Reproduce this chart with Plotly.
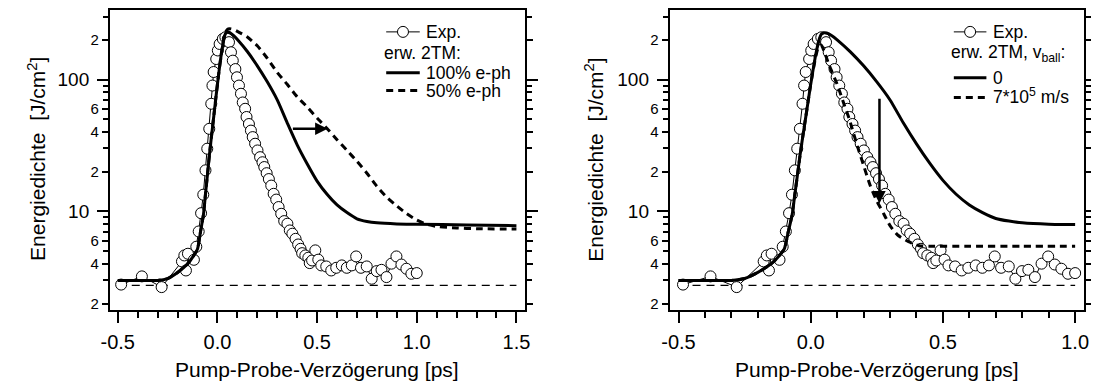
import numpy as np
import plotly.graph_objects as go

# ---------------- data ----------------
exp_delay = [-0.483, -0.379, -0.280, -0.178, -0.166, -0.158, -0.148, -0.118, -0.106, -0.094,
             -0.082, -0.071, -0.060, -0.051, -0.041, -0.031, -0.025, -0.019, -0.006, 0.002,
             0.011, 0.027, 0.040, 0.052, 0.058, 0.068, 0.077, 0.090, 0.098, 0.108,
             0.118, 0.127, 0.139, 0.146, 0.158, 0.168, 0.177, 0.189, 0.201, 0.214,
             0.226, 0.235, 0.247, 0.258, 0.270, 0.282, 0.295, 0.307, 0.320, 0.335,
             0.351, 0.363, 0.376, 0.392, 0.405, 0.417, 0.425, 0.441, 0.456, 0.463,
             0.475, 0.491, 0.506, 0.521, 0.546, 0.571, 0.596, 0.624, 0.649, 0.674,
             0.696, 0.720, 0.749, 0.774, 0.799, 0.823, 0.848, 0.873, 0.898, 0.923,
             0.948, 0.973, 1.000]
exp_energy = [2.79, 3.22, 2.67, 4.18, 4.64, 3.57, 4.78, 4.30, 5.40, 7.05,
              9.7, 13.4, 20.5, 29.9, 42.3, 65.5, 90, 114, 143, 166,
              186, 203, 209, 203, 192, 161, 139, 120, 104, 90,
              78, 67, 60, 52, 46, 41, 36.6, 32.6, 29, 25.8,
              23.6, 21.7, 19.5, 17.6, 15.7, 13.6, 12.3, 10.8, 9.6, 8.45,
              8.07, 7.18, 6.78, 6.2, 5.62, 5.21, 4.83, 4.64, 4.46, 4.06,
              4.25, 5.07, 4.31, 3.9, 3.83, 3.57, 3.74, 3.9, 3.74, 3.9,
              4.56, 3.74, 3.83, 3.09, 3.53, 3.61, 3.18, 4.02, 4.56, 3.96,
              3.68, 3.37, 3.41]

# left panel: erw. 2TM, 100 % e-ph
eph100_delay = [-0.5, -0.4, -0.3, -0.25, -0.2, -0.15, -0.12, -0.1, -0.085, -0.07,
                -0.06, -0.05, -0.04, -0.03, -0.02, -0.01, 0.0, 0.01, 0.02, 0.03,
                0.04, 0.05, 0.06, 0.08, 0.1, 0.15, 0.2, 0.25, 0.3, 0.35,
                0.4, 0.45, 0.5, 0.55, 0.6, 0.65, 0.7, 0.75, 0.8, 0.9,
                1.0, 1.25, 1.5]
eph100_energy = [3.0, 3.0, 3.0, 3.1, 3.45, 4.0, 4.6, 5.2, 7.0, 9.5,
                 13.5, 19, 27, 37, 50, 68, 92, 122, 158, 195,
                 222, 230, 228, 216, 201, 163, 127, 96, 70, 47,
                 32, 23, 17, 13.5, 11.2, 9.8, 8.8, 8.4, 8.2, 8.05,
                 8.0, 7.9, 7.8]

# left panel: erw. 2TM, 50 % e-ph
eph50_delay = [-0.5, -0.4, -0.3, -0.25, -0.2, -0.15, -0.12, -0.1, -0.085, -0.07,
               -0.06, -0.05, -0.04, -0.03, -0.02, -0.01, 0.0, 0.01, 0.02, 0.03,
               0.04, 0.05, 0.06, 0.08, 0.1, 0.15, 0.2, 0.25, 0.3, 0.35,
               0.4, 0.45, 0.5, 0.55, 0.6, 0.65, 0.7, 0.75, 0.8, 0.85,
               0.9, 0.95, 1.0, 1.05, 1.1, 1.2, 1.3, 1.5]
eph50_energy = [3.0, 3.0, 3.0, 3.1, 3.45, 4.0, 4.6, 5.2, 7.0, 9.5,
                13.5, 19, 27, 37, 50, 68, 92, 122, 158, 195,
                228, 240, 243, 240, 232, 210, 180, 145, 113, 92,
                74, 62, 51, 42.5, 35, 29, 24, 19.5, 15.5, 12.8,
                11.0, 9.6, 8.6, 8.0, 7.7, 7.5, 7.4, 7.35]

# right panel: erw. 2TM, v_ball = 0
vb0_delay = [-0.5, -0.4, -0.3, -0.25, -0.2, -0.15, -0.12, -0.1, -0.085, -0.07,
             -0.06, -0.05, -0.04, -0.03, -0.02, -0.01, 0.0, 0.01, 0.02, 0.03,
             0.04, 0.05, 0.06, 0.08, 0.1, 0.15, 0.2, 0.25, 0.3, 0.35,
             0.4, 0.45, 0.5, 0.55, 0.6, 0.65, 0.7, 0.75, 0.8, 0.9, 1.0]
vb0_energy = [3.0, 3.0, 3.0, 3.1, 3.45, 4.0, 4.6, 5.2, 7.0, 9.5,
              13.5, 19, 27, 37, 50, 68, 92, 122, 158, 195,
              220, 226, 225, 215, 200, 162, 127, 96, 70, 47,
              32.5, 23.2, 17.2, 13.5, 11.2, 9.8, 8.85, 8.45, 8.2, 8.0, 7.95]

# right panel: erw. 2TM, v_ball = 7*10^5 m/s
vb7_delay = [-0.5, -0.4, -0.3, -0.25, -0.2, -0.15, -0.12, -0.1, -0.085, -0.07,
             -0.06, -0.05, -0.04, -0.03, -0.02, -0.01, 0.0, 0.01, 0.02, 0.03,
             0.04, 0.05, 0.07, 0.1, 0.127, 0.146, 0.177, 0.195, 0.226, 0.25,
             0.276, 0.3, 0.33, 0.37, 0.41, 0.45, 0.6, 0.8, 1.0]
vb7_energy = [3.0, 3.0, 3.0, 3.1, 3.45, 4.0, 4.6, 5.2, 7.0, 9.5,
              13.5, 19, 27, 37, 50, 68, 92, 120, 152, 178,
              182, 165, 128, 92, 64, 50, 31, 24, 15.5, 12.0,
              9.6, 7.8, 6.6, 5.9, 5.5, 5.45, 5.45, 5.45, 5.45]

# dashed reference (background) level
base_left_delay = [-0.5, 1.5]
base_right_delay = [-0.5, 1.0]
base_level = [2.75, 2.75]

# arrows: (tail delay, tail energy) -> (tip delay, tip energy)
arrow_left = dict(x0=0.371, y0=42.4, x1=0.553, y1=42.4)
arrow_right = dict(x0=0.26, y0=73.5, x1=0.26, y1=11.5)

# axis ticks
x_left_ticks = [-0.5, 0.0, 0.5, 1.0, 1.5]
x_left_text = ["-0.5", "0.0", "0.5", "1.0", "1.5"]
x_right_ticks = [-0.5, 0.0, 0.5, 1.0]
x_right_text = ["-0.5", "0.0", "0.5", "1.0"]
y_decade_ticks = [10, 100]
y_small_ticks = [2, 4, 6, 20, 40, 60, 200]
y_small_text = ["2", "4", "6", "2", "4", "6", "2"]
y_minor_ticks = [3, 5, 7, 8, 9, 30, 50, 70, 80, 90, 300]

# ---------------- layout helpers ----------------
# page has an 8px body margin, so the figure itself is 8px smaller
OFF = 8
W, H = 1099 - OFF, 385 - OFF
FONT = "Liberation Sans, Arial, Helvetica, sans-serif"


def px(x):
    return (x - OFF) / W


def py(y):
    return 1 - (y - OFF) / H


YDOM = [py(311), min(1.0, py(8.6))]
YRANGE = [0.25, 2.53]

fig = go.Figure()

exp_style = dict(mode="lines+markers",
                 line=dict(color="black", width=1),
                 marker=dict(symbol="circle", size=11, color="white",
                             line=dict(color="black", width=1)),
                 showlegend=False, hoverinfo="skip")
solid = dict(color="black", width=3)
dashed = dict(color="black", width=3, dash="7px,5px")
thin_dash = dict(color="black", width=1.3, dash="8px,6px")

# left panel
fig.add_trace(go.Scatter(x=base_left_delay, y=base_level, mode="lines", line=thin_dash,
                         showlegend=False, xaxis="x", yaxis="y"))
fig.add_trace(go.Scatter(x=exp_delay, y=exp_energy, xaxis="x", yaxis="y", **exp_style))
fig.add_trace(go.Scatter(x=eph50_delay, y=eph50_energy, mode="lines", line=dict(dashed, shape="spline", smoothing=0.6),
                         showlegend=False, xaxis="x", yaxis="y"))
fig.add_trace(go.Scatter(x=eph100_delay, y=eph100_energy, mode="lines", line=dict(solid, shape="spline", smoothing=0.6),
                         showlegend=False, xaxis="x", yaxis="y"))

# right panel
fig.add_trace(go.Scatter(x=base_right_delay, y=base_level, mode="lines", line=thin_dash,
                         showlegend=False, xaxis="x2", yaxis="y2"))
fig.add_trace(go.Scatter(x=exp_delay, y=exp_energy, xaxis="x2", yaxis="y2", **exp_style))
fig.add_trace(go.Scatter(x=vb7_delay, y=vb7_energy, mode="lines", line=dict(dashed, shape="spline", smoothing=0.6),
                         showlegend=False, xaxis="x2", yaxis="y2"))
fig.add_trace(go.Scatter(x=vb0_delay, y=vb0_energy, mode="lines", line=dict(solid, shape="spline", smoothing=0.6),
                         showlegend=False, xaxis="x2", yaxis="y2"))


def xaxis(domain, rng, ticks, text, anchor):
    return dict(domain=domain, range=rng, anchor=anchor,
                tickmode="array", tickvals=ticks, ticktext=text,
                ticks="outside", ticklen=11, tickwidth=1.5, tickcolor="black",
                minor=dict(dtick=0.1, tick0=0, ticks="outside", ticklen=6, tickwidth=1.5, tickcolor="black"),
                showline=True, linecolor="black", linewidth=1.5, mirror=True,
                showgrid=False, zeroline=False,
                tickfont=dict(family=FONT, size=20, color="black"),
                ticklabelstandoff=2)


def yaxis_main(anchor):
    return dict(domain=YDOM, type="log", range=YRANGE, anchor=anchor,
                tickmode="array", tickvals=y_decade_ticks, ticktext=["10", "100"],
                ticks="outside", ticklen=11, tickwidth=1.5, tickcolor="black",
                showline=True, linecolor="black", linewidth=1.5, mirror="ticks",
                showgrid=False, zeroline=False,
                tickfont=dict(family=FONT, size=19, color="black"),
                ticklabelstandoff=4)


def yaxis_small(overlay, anchor):
    return dict(overlaying=overlay, type="log", range=YRANGE, anchor=anchor, side="left",
                tickmode="array", tickvals=y_small_ticks, ticktext=y_small_text,
                ticks="outside", ticklen=7, tickwidth=1.5, tickcolor="black",
                minor=dict(tickmode="array", tickvals=y_minor_ticks, ticks="outside",
                           ticklen=6, tickwidth=1.5, tickcolor="black"),
                showline=False, mirror="ticks",
                showgrid=False, zeroline=False,
                tickfont=dict(family=FONT, size=15, color="black"),
                ticklabelstandoff=0)


fig.update_layout(
    width=W, height=H,
    margin=dict(l=0, r=0, t=0, b=0),
    paper_bgcolor="white", plot_bgcolor="white",
    font=dict(family=FONT, color="black"),
    showlegend=False,
    xaxis=xaxis([px(102), px(523)], [-0.54, 1.545], x_left_ticks, x_left_text, "y"),
    xaxis2=xaxis([px(669), px(1089)], [-0.534, 1.034], x_right_ticks, x_right_text, "y2"),
    yaxis=yaxis_main("x"),
    yaxis2=yaxis_main("x2"),
    yaxis3=yaxis_small("y", "x"),
    yaxis4=yaxis_small("y2", "x2"),
)

# invisible traces to keep overlay axes alive
fig.add_trace(go.Scatter(x=[None], y=[None], xaxis="x", yaxis="y3", showlegend=False))
fig.add_trace(go.Scatter(x=[None], y=[None], xaxis="x2", yaxis="y4", showlegend=False))

ann = []
shapes = []

# axis titles
for xc in [28, 593]:
    ann.append(dict(text="Energiedichte&nbsp; [J/cm<sup>2</sup>]", x=px(xc), y=py(159), xref="paper", yref="paper",
                    textangle=-90, showarrow=False, xanchor="center", yanchor="middle",
                    font=dict(family=FONT, size=21, color="black")))
for xc in [312, 879]:
    ann.append(dict(text="Pump-Probe-Verzögerung [ps]", x=px(xc), y=py(370), xref="paper", yref="paper",
                    showarrow=False, xanchor="center", yanchor="middle",
                    font=dict(family=FONT, size=21, color="black")))

# legends
LF = dict(family=FONT, size=17.5, color="black")


def legend(x_line0, x_line1, x_text, x_head, rows):
    for kind, yv, ytxt, txt in rows:
        if kind == "header":
            ann.append(dict(text=txt, x=px(x_head), y=py(ytxt), xref="paper", yref="paper", showarrow=False,
                            xanchor="left", yanchor="middle", font=LF, borderpad=0))
            continue
        ann.append(dict(text=txt, x=px(x_text), y=py(ytxt), xref="paper", yref="paper", showarrow=False,
                        xanchor="left", yanchor="middle", font=LF, borderpad=0))
        if kind == "exp":
            shapes.append(dict(type="line", xref="paper", yref="paper", x0=px(x_line0), x1=px(x_line1),
                               y0=py(yv), y1=py(yv), line=dict(color="black", width=1)))
            xc = (x_line0 + x_line1) / 2
            shapes.append(dict(type="circle", xref="paper", yref="paper", xsizemode="pixel", ysizemode="pixel",
                               xanchor=px(xc), yanchor=py(yv), x0=-5.5, x1=5.5, y0=-5.5, y1=5.5,
                               fillcolor="white", line=dict(color="black", width=1)))
        elif kind == "solid":
            shapes.append(dict(type="line", xref="paper", yref="paper", x0=px(x_line0), x1=px(x_line1),
                               y0=py(yv), y1=py(yv), line=solid))
        elif kind == "dash":
            shapes.append(dict(type="line", xref="paper", yref="paper", x0=px(x_line0), x1=px(x_line1),
                               y0=py(yv), y1=py(yv), line=dict(color="black", width=3, dash="7px,5px")))


legend(382, 416, 421, 379, [("exp", 31, 31, "Exp."), ("header", 52, 52, "erw. 2TM:"),
                            ("solid", 72, 72, "100% e-ph"), ("dash", 90, 90, "50% e-ph")])
legend(957, 990, 996, 953, [("exp", 31, 31, "Exp."), ("header", 53, 53, "erw. 2TM, v<sub>ball</sub>:"),
                            ("solid", 77, 77, "0"), ("dash", 97, 95, "7*10<sup>5</sup> m/s")])

# arrows
for a, xr, yr in [(arrow_left, "x", "y"), (arrow_right, "x2", "y2")]:
    ann.append(dict(text="", x=a["x1"], y=np.log10(a["y1"]), ax=a["x0"], ay=np.log10(a["y0"]),
                    xref=xr, yref=yr, axref=xr, ayref=yr, showarrow=True,
                    arrowhead=2, arrowsize=1.0, arrowwidth=2.5, arrowcolor="black", standoff=0))

fig.update_layout(annotations=ann, shapes=shapes)
fig.write_html("out.html")
